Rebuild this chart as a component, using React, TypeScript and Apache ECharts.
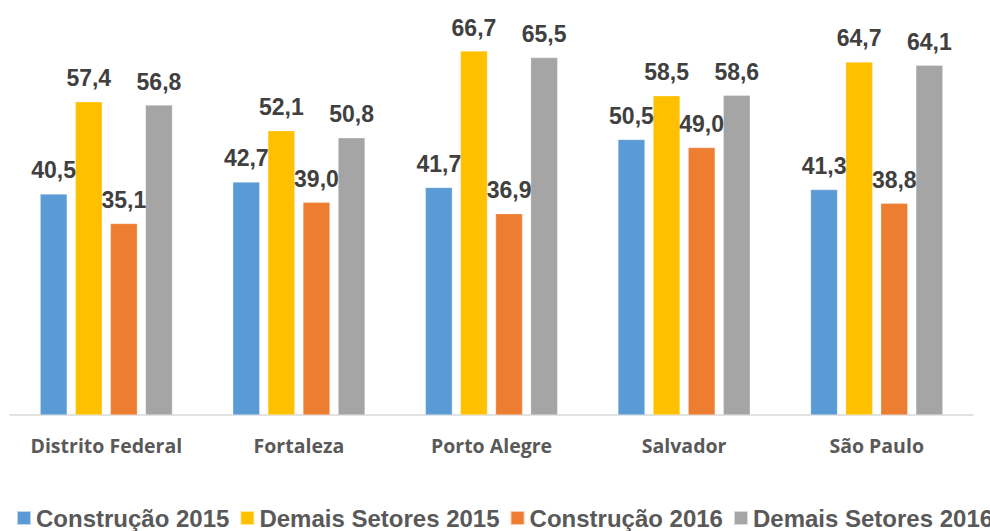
import React, { useEffect, useRef } from "react";
import * as echarts from "echarts";

const categories = ["Distrito Federal", "Fortaleza", "Porto Alegre", "Salvador", "São Paulo"];
const seriesNames = ["Construção 2015", "Demais Setores 2015", "Construção 2016", "Demais Setores 2016"];
const construcao2015 = [40.5, 42.7, 41.7, 50.5, 41.3];
const demais2015 = [57.4, 52.1, 66.7, 58.5, 64.7];
const construcao2016 = [35.1, 39.0, 36.9, 49.0, 38.8];
const demais2016 = [56.8, 50.8, 65.5, 58.6, 64.1];
const colors = ["#5B9BD5", "#FFC000", "#ED7D31", "#A5A5A5"];

export default function App() {
  const ref = useRef<HTMLDivElement>(null);
  useEffect(() => {
    if (!ref.current) return;
    const chart = echarts.init(ref.current, undefined, { renderer: "svg" });
    const values = [construcao2015, demais2015, construcao2016, demais2016];
    chart.setOption({
      animation: false,
      grid: { left: 10, right: 17, top: 33, bottom: 116, containLabel: false },
      legend: {
        left: 16,
        top: 506,
        width: 1200,
        padding: 0,
        itemWidth: 14,
        itemHeight: 14,
        itemGap: 10,
        icon: "rect",
        data: seriesNames,
        textStyle: {
          fontFamily: "Liberation Sans, Arial, sans-serif",
          fontWeight: "bold",
          fontSize: 24,
          color: "#595959",
        },
      },
      xAxis: {
        type: "category",
        data: categories,
        axisLine: { lineStyle: { color: "#D9D9D9", width: 1.5 } },
        axisTick: { show: false },
        axisLabel: {
          interval: 0,
          margin: 20,
          fontFamily: "Open Sans, sans-serif",
          fontWeight: "bold",
          fontSize: 19.5,
          color: "#595959",
        },
      },
      yAxis: {
        type: "value",
        min: 0,
        max: 70,
        show: false,
        splitLine: { show: false },
      },
      series: values.map((v, i) => ({
        name: seriesNames[i],
        type: "bar",
        data: v,
        barWidth: 27,
        barGap: "30%",
        itemStyle: { color: colors[i], borderColor: "rgba(255,255,255,0.6)", borderWidth: 0.5 },
        label: {
          show: true,
          position: "top",
          distance: 12,
          formatter: (p: any) => p.value.toFixed(1).replace(".", ","),
          fontFamily: "Liberation Sans, Arial, sans-serif",
          fontWeight: "bold",
          fontSize: 23,
          color: "#404040",
        },
      })),
    });
    return () => chart.dispose();
  }, []);
  return <div ref={ref} style={{ width: 990, height: 531, position: "absolute", left: 0, top: 0 }} />;
}
